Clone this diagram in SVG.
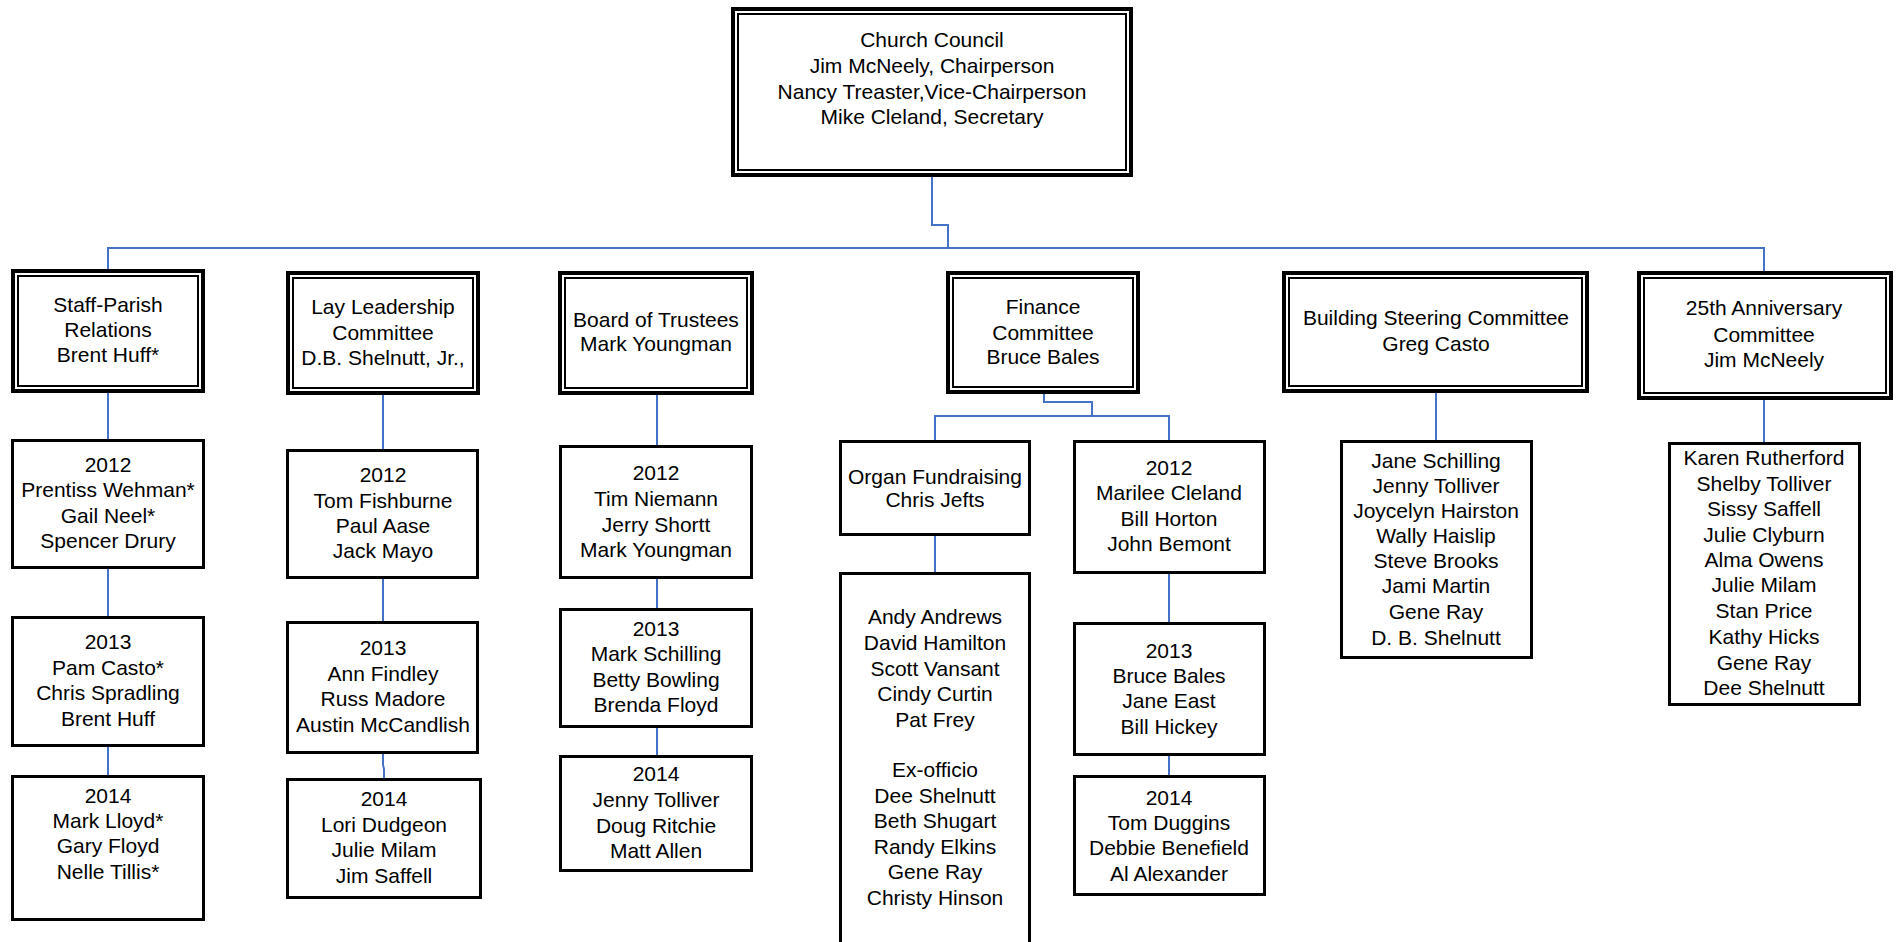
<svg xmlns="http://www.w3.org/2000/svg" width="1896" height="942" viewBox="0 0 1896 942">
<style>
.o{fill:#fff;stroke:#000;stroke-width:4}
.i{fill:none;stroke:#000;stroke-width:2}
.s{fill:#fff;stroke:#000;stroke-width:3}
.c{fill:none;stroke:#4472C4;stroke-width:2}
text{font-family:"Liberation Sans",Arial,sans-serif;font-size:21px;fill:#000;text-anchor:middle}
</style>
<rect width="1896" height="942" fill="#fff"/>
<g id="connectors">
<path class="c" d="M932,177 V225 H948 V248"/>
<path class="c" d="M108,269 V248 H1764 V271"/>
<path class="c" d="M108,393 V439"/>
<path class="c" d="M108,569 V616"/>
<path class="c" d="M108,747 V775"/>
<path class="c" d="M383,395 V449"/>
<path class="c" d="M383,579 V621"/>
<path class="c" d="M383,754 V765 L384,769 V778"/>
<path class="c" d="M657,395 V445"/>
<path class="c" d="M657,579 V608"/>
<path class="c" d="M657,728 V755"/>
<path class="c" d="M1044,394 V402 H1092 V416"/>
<path class="c" d="M935,440 V416 H1169 V440"/>
<path class="c" d="M935,536 V572"/>
<path class="c" d="M1169,574 V622"/>
<path class="c" d="M1169,756 V775"/>
<path class="c" d="M1436,393 V440"/>
<path class="c" d="M1764,400 V442"/>
</g>
<g id="church-council">
<rect class="o" x="733" y="9" width="398" height="166"/>
<rect class="i" x="738" y="14" width="388" height="156"/>
<text x="932" y="47">Church Council</text>
<text x="932" y="73">Jim McNeely, Chairperson</text>
<text x="932" y="99">Nancy Treaster,Vice-Chairperson</text>
<text x="932" y="124">Mike Cleland, Secretary</text>
</g>
<g id="staff-parish">
<rect class="o" x="13" y="271" width="190" height="120"/>
<rect class="i" x="18" y="276" width="180" height="110"/>
<text x="108" y="312">Staff-Parish</text>
<text x="108" y="337">Relations</text>
<text x="108" y="362">Brent Huff*</text>
</g>
<g id="lay-leadership">
<rect class="o" x="288" y="273" width="190" height="120"/>
<rect class="i" x="293" y="278" width="180" height="110"/>
<text x="383" y="314">Lay Leadership</text>
<text x="383" y="340">Committee</text>
<text x="383" y="365">D.B. Shelnutt, Jr.,</text>
</g>
<g id="board-of-trustees">
<rect class="o" x="560" y="273" width="192" height="120"/>
<rect class="i" x="565" y="278" width="182" height="110"/>
<text x="656" y="327">Board of Trustees</text>
<text x="656" y="351">Mark Youngman</text>
</g>
<g id="finance">
<rect class="o" x="948" y="273" width="190" height="119"/>
<rect class="i" x="953" y="278" width="180" height="109"/>
<text x="1043" y="314">Finance</text>
<text x="1043" y="340">Committee</text>
<text x="1043" y="364">Bruce Bales</text>
</g>
<g id="building-steering">
<rect class="o" x="1284" y="273" width="303" height="118"/>
<rect class="i" x="1289" y="278" width="293" height="108"/>
<text x="1436" y="325">Building Steering Committee</text>
<text x="1436" y="351">Greg Casto</text>
</g>
<g id="anniversary">
<rect class="o" x="1639" y="273" width="252" height="125"/>
<rect class="i" x="1644" y="278" width="242" height="115"/>
<text x="1764" y="315">25th Anniversary</text>
<text x="1764" y="342">Committee</text>
<text x="1764" y="367">Jim McNeely</text>
</g>
<g id="staff-2012">
<rect class="s" x="12.5" y="440.5" width="191" height="127"/>
<text x="108" y="472">2012</text>
<text x="108" y="497">Prentiss Wehman*</text>
<text x="108" y="523">Gail Neel*</text>
<text x="108" y="548">Spencer Drury</text>
</g>
<g id="staff-2013">
<rect class="s" x="12.5" y="617.5" width="191" height="128"/>
<text x="108" y="649">2013</text>
<text x="108" y="675">Pam Casto*</text>
<text x="108" y="700">Chris Spradling</text>
<text x="108" y="726">Brent Huff</text>
</g>
<g id="staff-2014">
<rect class="s" x="12.5" y="776.5" width="191" height="143"/>
<text x="108" y="803">2014</text>
<text x="108" y="828">Mark Lloyd*</text>
<text x="108" y="853">Gary Floyd</text>
<text x="108" y="879">Nelle Tillis*</text>
</g>
<g id="lay-2012">
<rect class="s" x="287.5" y="450.5" width="190" height="127"/>
<text x="383" y="482">2012</text>
<text x="383" y="508">Tom Fishburne</text>
<text x="383" y="533">Paul Aase</text>
<text x="383" y="558">Jack Mayo</text>
</g>
<g id="lay-2013">
<rect class="s" x="287.5" y="622.5" width="190" height="130"/>
<text x="383" y="655">2013</text>
<text x="383" y="681">Ann Findley</text>
<text x="383" y="706">Russ Madore</text>
<text x="383" y="732">Austin McCandlish</text>
</g>
<g id="lay-2014">
<rect class="s" x="287.5" y="779.5" width="193" height="118"/>
<text x="384" y="806">2014</text>
<text x="384" y="832">Lori Dudgeon</text>
<text x="384" y="857">Julie Milam</text>
<text x="384" y="883">Jim Saffell</text>
</g>
<g id="board-2012">
<rect class="s" x="560.5" y="446.5" width="191" height="131"/>
<text x="656" y="480">2012</text>
<text x="656" y="506">Tim Niemann</text>
<text x="656" y="532">Jerry Shortt</text>
<text x="656" y="557">Mark Youngman</text>
</g>
<g id="board-2013">
<rect class="s" x="560.5" y="609.5" width="191" height="117"/>
<text x="656" y="636">2013</text>
<text x="656" y="661">Mark Schilling</text>
<text x="656" y="687">Betty Bowling</text>
<text x="656" y="712">Brenda Floyd</text>
</g>
<g id="board-2014">
<rect class="s" x="560.5" y="756.5" width="191" height="114"/>
<text x="656" y="781">2014</text>
<text x="656" y="807">Jenny Tolliver</text>
<text x="656" y="833">Doug Ritchie</text>
<text x="656" y="858">Matt Allen</text>
</g>
<g id="organ-fundraising">
<rect class="s" x="840.5" y="441.5" width="189" height="93"/>
<text x="935" y="484">Organ Fundraising</text>
<text x="935" y="507">Chris Jefts</text>
</g>
<g id="organ-members">
<rect class="s" x="840.5" y="573.5" width="189" height="400"/>
<text x="935" y="624">Andy Andrews</text>
<text x="935" y="650">David Hamilton</text>
<text x="935" y="676">Scott Vansant</text>
<text x="935" y="701">Cindy Curtin</text>
<text x="935" y="727">Pat Frey</text>
<text x="935" y="777">Ex-officio</text>
<text x="935" y="803">Dee Shelnutt</text>
<text x="935" y="828">Beth Shugart</text>
<text x="935" y="854">Randy Elkins</text>
<text x="935" y="879">Gene Ray</text>
<text x="935" y="905">Christy Hinson</text>
</g>
<g id="finance-2012">
<rect class="s" x="1074.5" y="441.5" width="190" height="131"/>
<text x="1169" y="475">2012</text>
<text x="1169" y="500">Marilee Cleland</text>
<text x="1169" y="526">Bill Horton</text>
<text x="1169" y="551">John Bemont</text>
</g>
<g id="finance-2013">
<rect class="s" x="1074.5" y="623.5" width="190" height="131"/>
<text x="1169" y="658">2013</text>
<text x="1169" y="683">Bruce Bales</text>
<text x="1169" y="708">Jane East</text>
<text x="1169" y="734">Bill Hickey</text>
</g>
<g id="finance-2014">
<rect class="s" x="1074.5" y="776.5" width="190" height="118"/>
<text x="1169" y="805">2014</text>
<text x="1169" y="830">Tom Duggins</text>
<text x="1169" y="855">Debbie Benefield</text>
<text x="1169" y="881">Al Alexander</text>
</g>
<g id="building-members">
<rect class="s" x="1341.5" y="441.5" width="190" height="216"/>
<text x="1436" y="468">Jane Schilling</text>
<text x="1436" y="493">Jenny Tolliver</text>
<text x="1436" y="518">Joycelyn Hairston</text>
<text x="1436" y="543">Wally Haislip</text>
<text x="1436" y="568">Steve Brooks</text>
<text x="1436" y="593">Jami Martin</text>
<text x="1436" y="619">Gene Ray</text>
<text x="1436" y="645">D. B. Shelnutt</text>
</g>
<g id="anniversary-members">
<rect class="s" x="1669.5" y="443.5" width="190" height="261"/>
<text x="1764" y="465">Karen Rutherford</text>
<text x="1764" y="491">Shelby Tolliver</text>
<text x="1764" y="516">Sissy Saffell</text>
<text x="1764" y="542">Julie Clyburn</text>
<text x="1764" y="567">Alma Owens</text>
<text x="1764" y="592">Julie Milam</text>
<text x="1764" y="618">Stan Price</text>
<text x="1764" y="644">Kathy Hicks</text>
<text x="1764" y="670">Gene Ray</text>
<text x="1764" y="695">Dee Shelnutt</text>
</g>
</svg>
